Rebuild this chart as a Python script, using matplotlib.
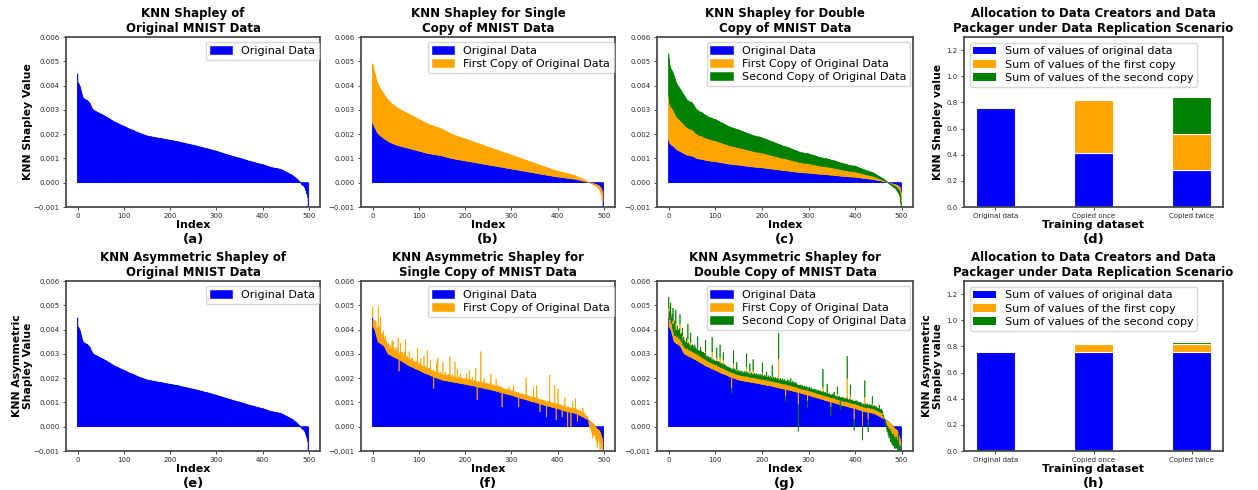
import matplotlib
matplotlib.use("Agg")
import matplotlib.pyplot as plt
import numpy as np
from matplotlib.ticker import FuncFormatter
from matplotlib.patches import Patch

# ---------------- data (values in units of 1e-5) ----------------
orig_e5 = [
448,410,410,405,400,397,390,383,375,368,360,355,350,347,345,345,343,342,341,340,
340,338,336,334,332,330,328,325,320,316,312,308,305,302,300,298,297,296,295,294,
293,292,291,290,289,288,287,286,285,284,283,282,281,280,279,278,277,276,275,274,
273,272,271,270,269,268,266,265,264,263,262,260,259,258,257,256,254,253,252,251,
250,249,248,247,246,246,245,244,243,242,241,240,239,238,237,236,236,235,234,233,
233,232,231,230,229,228,227,226,225,224,223,222,221,220,220,219,218,218,217,216,
216,215,214,213,212,211,210,209,208,208,207,206,205,204,203,203,202,201,201,200,
200,199,198,197,197,196,195,195,194,193,193,192,192,191,191,190,190,190,189,189,
189,188,188,188,187,187,187,186,186,186,185,185,184,184,184,183,183,183,182,182,
182,182,181,181,180,180,180,179,179,179,178,178,177,177,177,176,176,176,175,175,
175,175,174,174,173,173,173,172,172,171,171,171,170,170,170,169,169,169,168,168,
168,167,167,166,166,165,165,164,164,163,163,163,162,162,161,161,160,160,159,159,
159,158,158,157,157,156,156,155,155,155,155,154,154,153,153,152,152,151,151,150,
150,149,149,148,148,147,147,146,146,145,145,144,144,143,143,142,142,141,141,140,
140,140,139,139,138,137,137,136,136,135,135,134,134,133,133,132,132,131,131,130,
130,129,129,128,127,127,126,125,125,124,124,123,122,122,121,121,120,119,119,118,
118,117,117,116,116,115,114,114,113,113,112,112,111,110,110,109,109,108,107,107,
106,106,105,104,104,103,103,102,102,102,102,101,100,100,99,98,98,97,97,96,
95,95,94,94,93,92,92,91,91,90,89,89,88,88,87,87,86,86,85,85,
85,84,84,83,83,82,81,81,80,80,79,79,78,78,77,77,76,76,75,75,
75,74,74,73,72,72,71,70,70,69,68,68,67,66,66,65,64,64,63,62,
62,62,61,61,61,60,60,60,59,59,59,58,58,58,57,57,56,56,55,55,
55,54,53,52,51,50,49,48,47,46,45,44,43,42,41,40,39,38,37,36,
35,34,33,32,31,30,28,27,25,24,22,21,19,18,16,15,13,11,9,7,
5,3,1,-2,-5,-8,-10,-11,-12,-13,-15,-18,-22,-27,-33,-40,-45,-50,-60,-110]

single_e5 = [
245,242,238,232,228,225,222,218,214,210,207,204,202,200,198,196,194,193,191,190,
189,187,186,184,183,181,180,178,177,176,175,173,172,171,170,169,168,167,166,165,
164,163,162,161,161,160,159,158,158,157,156,156,155,154,154,153,153,152,152,151,
150,150,149,149,148,148,147,147,146,146,145,145,144,144,143,143,142,142,141,141,
140,140,139,139,138,138,137,137,136,136,135,135,134,134,133,133,132,132,131,131,
130,130,129,129,128,128,127,127,126,126,125,125,124,124,123,123,122,122,121,121,
120,120,120,119,119,119,118,118,118,117,117,117,116,116,116,115,115,115,114,114,
114,113,113,113,112,112,112,111,111,111,110,110,109,109,108,108,107,107,106,106,
105,105,104,104,103,103,102,102,101,101,100,100,100,99,99,99,98,98,97,97,
97,96,96,96,95,95,95,94,94,94,93,93,93,92,92,92,91,91,91,90,
90,90,89,89,89,88,88,88,87,87,87,86,86,86,85,85,85,84,84,84,
83,83,83,82,82,82,81,81,81,80,80,80,79,79,79,78,78,78,77,77,
77,76,76,76,75,75,75,74,74,74,73,73,73,72,72,72,71,71,71,70,
70,70,69,69,69,68,68,68,67,67,67,66,66,66,65,65,65,64,64,64,
63,63,63,62,62,62,61,61,61,60,60,60,59,59,59,58,58,58,57,57,
57,56,56,56,55,55,55,54,54,54,53,53,53,52,52,52,51,51,51,50,
50,50,49,49,49,48,48,48,47,47,47,46,46,46,45,45,45,44,44,44,
43,43,43,42,42,42,41,41,41,40,40,40,39,39,39,38,38,38,37,37,
37,36,36,36,35,35,35,34,34,34,33,33,33,32,32,32,31,31,31,30,
30,30,29,29,29,28,28,28,27,27,27,26,26,26,25,25,25,25,24,24,
24,24,23,23,23,23,22,22,22,22,21,21,21,21,20,20,20,20,19,19,
19,19,18,18,18,18,17,17,17,17,16,16,16,16,15,15,15,15,14,14,
14,13,13,12,12,11,11,10,10,10,9,9,8,8,7,7,7,6,6,5,
5,4,4,3,3,2,2,1,1,0,0,-1,-1,-2,-2,-3,-3,-4,-4,-5,
-5,-6,-6,-7,-7,-8,-9,-10,-11,-12,-13,-15,-17,-19,-21,-24,-28,-35,-40,-100]

double_e5 = [
177,170,163,160,158,156,155,154,152,151,150,148,146,144,142,140,138,136,135,134,
133,132,131,130,129,128,127,126,125,124,123,122,121,120,119,118,117,116,115,114,
113,113,112,112,111,111,111,110,110,110,110,109,108,107,106,105,104,103,102,101,
100,100,99,99,98,98,97,97,97,97,97,96,96,95,95,94,94,93,93,92,
92,92,91,91,91,90,90,90,89,89,89,89,88,88,88,88,87,87,87,87,
87,86,86,86,85,85,85,84,84,84,83,83,83,82,82,82,81,81,81,80,
80,80,79,79,79,78,78,78,77,77,77,77,76,76,76,76,75,75,75,75,
74,74,74,74,73,73,73,73,73,73,72,72,72,72,71,71,71,71,70,70,
70,70,69,69,69,69,68,68,68,68,67,67,67,67,66,66,66,66,65,65,
65,65,65,64,64,64,64,64,63,63,63,63,63,63,63,62,62,62,62,62,
62,61,61,61,61,60,60,60,60,59,59,59,59,58,58,58,58,57,57,57,
57,56,56,56,56,55,55,55,55,54,54,54,54,53,53,53,53,52,52,52,
52,51,51,51,51,50,50,50,50,50,50,49,49,49,49,48,48,48,48,47,
47,47,47,46,46,46,46,45,45,45,45,44,44,44,44,43,43,43,43,42,
42,42,42,42,41,41,41,41,41,41,40,40,40,40,40,40,40,40,40,40,
40,39,39,39,39,39,38,38,38,38,38,37,37,37,37,37,36,36,36,36,
36,35,35,35,35,35,34,34,34,34,34,34,33,33,33,33,33,33,33,33,
33,32,32,32,32,32,32,31,31,31,31,31,31,30,30,30,30,30,29,29,
29,29,29,28,28,28,28,28,27,27,27,27,27,26,26,26,26,26,25,25,
25,25,25,25,25,24,24,24,24,24,24,24,23,23,23,23,23,23,23,23,
23,22,22,22,22,21,21,21,21,20,20,20,20,19,19,19,19,18,18,18,
18,17,17,17,17,16,16,16,16,16,15,15,15,15,15,14,14,14,14,13,
13,13,12,12,11,11,11,10,10,10,9,9,9,8,8,7,7,7,6,6,
6,5,5,4,4,3,3,2,2,1,0,0,-1,-1,-2,-2,-3,-3,-4,-4,
-5,-5,-6,-6,-7,-7,-8,-8,-9,-10,-11,-12,-13,-14,-15,-16,-18,-22,-28,-40]

asym_single_copy_e5 = [
46,28,25,35,30,40,22,50,25,38,30,55,144,30,70,40,35,110,30,40,
25,45,30,60,28,35,20,50,30,25,40,22,35,30,45,20,28,35,25,40,
22,30,65,25,61,20,35,28,40,22,30,25,45,20,35,87,28,-47,25,30,
71,22,35,28,20,40,25,30,22,45,20,97,25,30,22,35,20,28,25,58,
20,30,22,25,35,20,38,25,20,30,22,28,20,25,35,20,28,89,22,25,
20,30,18,25,53,20,28,22,18,25,20,68,22,18,28,20,25,18,98,22,
18,25,20,28,18,63,22,18,25,20,18,28,-47,20,18,25,20,18,62,22,
18,84,20,25,18,22,30,18,20,25,18,22,74,20,18,25,20,35,18,22,
18,25,20,18,28,20,22,102,18,25,20,18,22,30,18,20,25,18,85,20,
18,22,20,56,18,25,20,18,22,28,40,18,20,25,18,22,20,18,25,20,
18,22,20,45,18,20,25,18,22,62,18,20,25,18,22,20,35,18,20,22,
18,25,20,75,18,22,-55,20,18,25,20,18,22,20,148,18,25,20,18,22,
20,40,18,22,20,18,25,20,18,22,20,18,25,20,18,22,65,18,20,22,
18,20,25,18,20,22,18,50,20,18,22,20,18,25,20,18,22,20,18,25,
-58,15,18,20,15,18,20,15,18,15,20,18,15,20,18,31,15,18,20,15,
18,15,20,15,18,43,15,18,20,15,18,15,20,18,15,20,-38,15,18,15,
15,18,20,15,18,15,20,18,15,18,15,20,89,15,18,15,20,18,15,18,
15,20,18,15,18,15,20,18,61,15,18,15,20,18,15,71,18,15,20,15,
15,18,-33,15,18,20,15,18,15,20,18,15,18,15,20,18,-46,15,18,15,
20,18,15,129,18,15,20,18,15,18,15,20,18,15,92,18,15,-48,20,15,
18,81,15,20,18,15,18,15,20,18,-28,15,18,20,15,18,55,15,20,18,
15,18,-61,15,20,18,15,18,15,-60,18,15,20,45,15,18,20,15,18,60,
15,18,20,-30,15,18,20,15,18,15,20,18,15,20,18,37,15,18,20,15,
15,12,10,12,10,8,5,3,-10,-20,-25,-30,-15,-35,-40,-30,-60,-35,-40,-45,
-40,-35,-45,-50,-40,-55,-75,-45,-40,-35,-50,-45,-85,-40,-35,-30,-45,-70,-40,-20]

asym_double_copy1_e5 = [
40,35,30,45,60,30,35,50,28,70,30,40,25,55,30,80,35,28,45,30,
28,35,25,40,90,30,25,35,28,60,25,30,40,25,35,28,30,25,45,28,
30,70,25,35,28,30,25,60,28,30,25,35,28,30,25,28,35,25,30,28,
25,30,55,28,25,30,25,28,40,25,30,25,28,25,30,25,28,25,30,60,
25,28,22,25,30,22,25,28,22,25,30,22,25,70,22,25,28,22,25,22,
25,22,28,55,22,25,22,28,22,25,62,22,25,22,28,22,25,58,22,25,
22,25,20,22,25,20,22,25,20,22,25,20,22,25,20,-45,22,20,25,58,
20,22,25,20,22,20,40,22,20,25,20,22,20,25,20,22,20,25,20,22,
20,22,25,20,22,20,25,60,22,20,25,20,22,20,45,22,20,25,20,22,
20,50,22,20,25,20,22,20,25,20,22,20,25,20,22,20,25,20,22,20,
25,48,20,22,20,25,20,22,20,25,30,20,22,20,25,20,22,20,25,20,
22,20,40,22,20,25,20,22,20,25,20,22,20,25,20,22,120,20,22,20,
25,20,22,20,25,20,22,20,25,20,22,-30,20,22,20,20,22,20,25,20,
22,20,25,20,22,20,25,20,22,20,20,22,20,25,20,22,20,20,-50,20,
18,20,22,18,20,18,22,20,18,20,18,20,22,18,20,18,22,20,-25,20,
18,20,22,18,20,18,22,20,18,20,18,20,22,18,20,18,22,20,18,20,
18,20,22,18,20,18,22,20,18,20,18,50,22,18,20,18,22,20,18,20,
35,20,18,20,22,18,20,18,-20,20,18,20,22,18,20,30,22,18,20,18,
20,18,40,18,20,18,22,20,18,20,18,20,22,18,20,18,22,20,18,20,
18,20,22,116,20,18,20,18,22,20,50,18,20,18,22,20,18,20,-45,20,
18,20,22,18,20,18,22,20,18,20,18,20,22,18,20,18,-60,20,18,20,
18,60,22,18,20,18,22,20,-30,20,18,20,22,18,20,18,22,40,18,20,
18,20,22,18,20,18,22,20,18,20,18,20,25,18,20,18,22,20,18,20,
10,8,5,3,0,-5,-10,-15,-20,-25,-20,-30,-25,-35,-30,-25,-40,-30,-35,-40,
-40,-35,-45,-30,-40,-35,-45,-40,-30,-35,-40,-45,-35,-50,-40,-35,-45,-30,-40,-30]

asym_double_copy2_e5 = [
45,30,25,40,50,20,25,30,20,50,25,30,20,35,25,55,20,25,30,20,
20,25,15,30,40,20,15,25,20,30,15,20,25,15,20,15,20,15,25,15,
20,60,15,20,15,20,15,40,15,20,15,20,15,20,15,20,25,15,20,15,
15,20,45,15,20,15,20,15,25,15,20,15,20,15,20,15,20,15,20,45,
15,12,15,12,15,12,15,12,15,12,15,12,15,60,12,15,12,15,12,15,
12,15,12,40,12,15,12,15,12,15,52,12,15,12,15,12,15,30,12,15,
12,15,12,10,12,15,10,12,15,10,12,15,10,12,15,-20,10,12,15,55,
10,12,15,10,12,10,30,12,10,15,10,12,10,15,10,12,10,15,10,12,
10,12,15,10,12,10,15,55,12,10,15,10,12,10,30,12,10,15,10,12,
10,45,12,10,15,10,12,10,15,10,12,10,15,10,12,10,15,10,12,10,
15,40,10,12,10,15,10,12,10,15,25,10,12,10,15,10,12,10,15,10,
12,10,45,12,10,15,10,12,10,15,10,12,10,15,10,12,105,10,12,10,
15,10,12,10,15,10,12,10,15,10,12,-20,10,12,10,20,12,10,15,10,
12,10,25,10,12,10,15,10,12,18,10,12,10,15,10,12,10,10,-110,10,
8,10,12,8,10,8,12,10,8,10,8,10,12,8,10,8,12,10,-30,10,
8,10,12,8,10,8,12,10,8,10,8,10,12,8,10,8,12,10,8,10,
8,10,12,8,10,8,12,10,8,10,8,75,12,8,10,8,12,10,8,10,
35,10,8,10,12,8,10,8,-35,10,8,10,12,8,10,15,12,8,10,8,
10,8,30,8,10,8,12,10,-40,10,8,10,12,8,10,8,12,10,8,10,
8,10,12,91,10,8,10,8,12,10,43,8,10,8,12,10,8,10,-45,10,
8,10,12,8,10,8,12,10,8,10,8,10,12,8,10,8,-59,10,8,10,
8,68,12,8,10,8,12,10,-50,10,8,10,12,8,10,8,12,30,8,10,
8,10,12,8,10,8,12,10,8,10,8,10,21,8,10,8,12,10,8,10,
5,4,2,0,-5,-8,-10,-12,-15,-20,-15,-25,-20,-30,-25,-20,-35,-40,-30,-35,
-40,-30,-35,-25,-30,-45,-35,-30,-25,-40,-30,-35,-20,50,-30,-25,-35,-30,-40,-30]

categories = ["Original data", "Copied once", "Copied twice"]
shap_sum_orig = [0.76, 0.41, 0.28]
shap_sum_copy1 = [0.0, 0.41, 0.28]
shap_sum_copy2 = [0.0, 0.0, 0.28]
asym_sum_orig = [0.76, 0.76, 0.76]
asym_sum_copy1 = [0.0, 0.055, 0.055]
asym_sum_copy2 = [0.0, 0.0, 0.02]

legend_orig = "Original Data"
legend_c1 = "First Copy of Original Data"
legend_c2 = "Second Copy of Original Data"
sum_labels = ["Sum of values of original data",
              "Sum of values of the first copy",
              "Sum of values of the second copy"]

# ---------------- convert ----------------
S = 1e-5
orig = np.array(orig_e5) * S
single = np.array(single_e5) * S
double = np.array(double_e5) * S
a_c1 = np.array(asym_single_copy_e5) * S
g_c1 = np.array(asym_double_copy1_e5) * S
g_c2 = np.array(asym_double_copy2_e5) * S
idx = np.arange(len(orig))

BLUE, ORANGE, GREEN = "blue", "orange", "green"

fig = plt.figure(figsize=(12.58, 4.9), dpi=100)
W, H = 1258.0, 490.0
lefts = [66, 361, 657, 964]
widths = [254, 254, 256, 259]
tops = [37, 281]
AH = 170


def make_ax(col, row):
    l = lefts[col] / W
    b = 1 - (tops[row] + AH) / H
    return fig.add_axes([l, b, widths[col] / W, AH / H])


def fmt(v, pos):
    if abs(v) < 1e-12:
        v = 0.0
    return f"{v:.3f}".replace("-", "\u2212")


LEG = dict(fontsize=8, labelspacing=0.28, handlelength=2.0, borderpad=0.35,
           handletextpad=0.8, edgecolor="0.8")


def style(ax, title, ylabel, xlabel, sub, ylx):
    for s in ax.spines.values():
        s.set_color("0.3")
        s.set_linewidth(1.3)
    ax.tick_params(labelsize=5.0, length=2.5, width=0.6, pad=2, colors="0.15")
    ax.set_title(title, fontsize=8.5, fontweight="bold", pad=3.5, linespacing=1.2)
    if ylabel:
        ax.set_ylabel(ylabel, fontsize=7.8, fontweight="bold", linespacing=1.15)
        ax.yaxis.set_label_coords(ylx, 0.5)
    ax.set_xlabel(xlabel, fontsize=8, fontweight="bold")
    ax.xaxis.set_label_coords(0.5, -0.075)
    ax.text(0.5, -0.19, sub, transform=ax.transAxes, ha="center", va="center",
            fontsize=9.5, fontweight="bold")


def index_axes(ax):
    ax.set_xlim(-25.4, 524.4)
    ax.set_ylim(-0.001, 0.006)
    ax.set_yticks(np.arange(-0.001, 0.00601, 0.001))
    ax.yaxis.set_major_formatter(FuncFormatter(fmt))
    ax.set_xticks([0, 100, 200, 300, 400, 500])


def leg_right(ax, dx):
    ax.legend(loc="upper right", bbox_to_anchor=(1 - dx / 254, 1 - 5 / 170),
              borderaxespad=0, **LEG)


def bars(ax, y, bottom=None, color=BLUE, label=None):
    cont = ax.bar(idx, y, bottom=bottom, width=1.0, color=color, label=label,
                  edgecolor=color, linewidth=0.4)
    for p in cont.patches:
        p.set_snap(False)
    return cont


# (a)
ax = make_ax(0, 0)
bars(ax, orig, color=BLUE, label=legend_orig)
index_axes(ax)
leg_right(ax, 1)
style(ax, "KNN Shapley of\nOriginal MNIST Data", "KNN Shapley Value", "Index", "(a)", -0.131)

# (b)
ax = make_ax(1, 0)
bars(ax, single, color=BLUE, label=legend_orig)
bars(ax, single, bottom=single, color=ORANGE, label=legend_c1)
index_axes(ax)
leg_right(ax, 1)
style(ax, "KNN Shapley for Single\nCopy of MNIST Data", None, "Index", "(b)", 0)

# (c)
ax = make_ax(2, 0)
bars(ax, double, color=BLUE, label=legend_orig)
bars(ax, double, bottom=double, color=ORANGE, label=legend_c1)
bars(ax, double, bottom=2 * double, color=GREEN, label=legend_c2)
index_axes(ax)
leg_right(ax, 3)
style(ax, "KNN Shapley for Double\nCopy of MNIST Data", None, "Index", "(c)", 0)

# (e)
ax = make_ax(0, 1)
bars(ax, orig, color=BLUE, label=legend_orig)
index_axes(ax)
leg_right(ax, 1)
style(ax, "KNN Asymmetric Shapley of\nOriginal MNIST Data",
      "KNN Asymmetric\nShapley Value", "Index", "(e)", -0.131)

# (f)
ax = make_ax(1, 1)
bars(ax, orig, color=BLUE, label=legend_orig)
bars(ax, a_c1, bottom=orig, color=ORANGE, label=legend_c1)
index_axes(ax)
leg_right(ax, 1)
style(ax, "KNN Asymmetric Shapley for\nSingle Copy of MNIST Data", None, "Index", "(f)", 0)

# (g)
ax = make_ax(2, 1)
bars(ax, orig, color=BLUE, label=legend_orig)
bars(ax, g_c1, bottom=orig, color=ORANGE, label=legend_c1)
bars(ax, g_c2, bottom=orig + g_c1, color=GREEN, label=legend_c2)
index_axes(ax)
leg_right(ax, 3)
style(ax, "KNN Asymmetric Shapley for\nDouble Copy of MNIST Data", None, "Index", "(g)", 0)


def sum_axes(row, s0, s1, s2, ylabel, sub):
    ax = make_ax(3, row)
    x = np.arange(len(categories))
    s0 = np.array(s0); s1 = np.array(s1); s2 = np.array(s2)
    kw = dict(width=0.4, edgecolor="white", linewidth=0.8)
    ax.bar(x, s0, color=BLUE, **kw)
    m1 = s1 > 0
    ax.bar(x[m1], s1[m1], bottom=s0[m1], color=ORANGE, **kw)
    m2 = s2 > 0
    ax.bar(x[m2], s2[m2], bottom=(s0 + s1)[m2], color=GREEN, **kw)
    handles = [Patch(facecolor=c, label=l) for c, l in zip([BLUE, ORANGE, GREEN], sum_labels)]
    ax.set_xticks(x)
    ax.set_xticklabels(categories)
    ax.set_xlim(-0.32, 2.32)
    ax.set_ylim(0, 1.3)
    ax.set_yticks([0.0, 0.2, 0.4, 0.6, 0.8, 1.0, 1.2])
    ax.legend(handles=handles, loc="upper left", **LEG)
    style(ax, "Allocation to Data Creators and Data\nPackager under Data Replication Scenario",
          ylabel, "Training dataset", sub, -0.081)
    return ax


sum_axes(0, shap_sum_orig, shap_sum_copy1, shap_sum_copy2, "KNN Shapley value", "(d)")
sum_axes(1, asym_sum_orig, asym_sum_copy1, asym_sum_copy2, "KNN Asymmetric\nShapley value", "(h)")

fig.savefig("out.png", dpi=100)
